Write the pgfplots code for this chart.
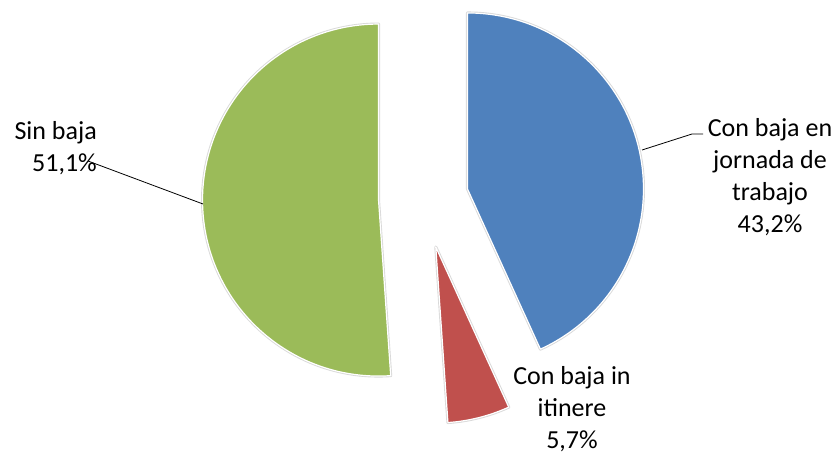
\documentclass[border=0pt]{standalone}
\usepackage{pgfplots}
\pgfplotsset{compat=1.18}
\usepackage{fontspec}
\setmainfont{Carlito}

\definecolor{sliceblue}{HTML}{4F81BD}
\definecolor{slicered}{HTML}{C0504D}
\definecolor{slicegreen}{HTML}{9BBB59}

% pie centre and radius, in axis units (1 unit = 1pt)
\def\cx{423.5}
\def\cy{-198.5}
\def\rad{176}

% #1 start angle, #2 share in percent, #3 colour, #4 explode distance
\newcommand{\pieslice}[4]{%
  \draw[black!15, line width=3pt, line join=round]
    (axis cs:\cx,\cy) ++({#1-#2*1.8}:#4pt) -- ++({#1}:\rad pt)
    arc[start angle={#1}, delta angle={-#2*3.6}, radius=\rad pt] -- cycle;
  \fill[#3, draw=white, line width=1.2pt, line join=round]
    (axis cs:\cx,\cy) ++({#1-#2*1.8}:#4pt) -- ++({#1}:\rad pt)
    arc[start angle={#1}, delta angle={-#2*3.6}, radius=\rad pt] -- cycle;
}

\begin{document}
\begin{tikzpicture}
\begin{axis}[
    hide axis,
    scale only axis,
    width=838pt, height=456pt,
    xmin=0, xmax=838, ymin=-456, ymax=0,
    clip=false,
]
\draw[draw=none] (axis cs:0,0) rectangle (axis cs:838,-456);

% slices run clockwise from 12 o'clock
\pieslice{90}{43.2}{sliceblue}{45}
\pieslice{90-43.2*3.6}{5.7}{slicered}{50}
\pieslice{90-48.9*3.6}{51.1}{slicegreen}{45}

% leader lines
\draw[black, line width=0.8pt] (axis cs:88,-161) -- (axis cs:203,-204);
\draw[black, line width=0.8pt] (axis cs:642,-150) -- (axis cs:692,-134) -- (axis cs:703,-134);

% labels
\tikzset{lbl/.style={inner sep=0pt, font=\fontsize{26}{32}\selectfont}}
\node[lbl, align=right, anchor=north east] at (axis cs:97,-121) {Sin baja\\51,1\%};
\node[lbl, align=center, anchor=north] at (axis cs:770,-118) {Con baja en\\jornada de\\trabajo\\43,2\%};
\node[lbl, align=center, anchor=north] at (axis cs:572,-366) {Con baja in\\itinere\\5,7\%};
\end{axis}
\end{tikzpicture}
\end{document}
